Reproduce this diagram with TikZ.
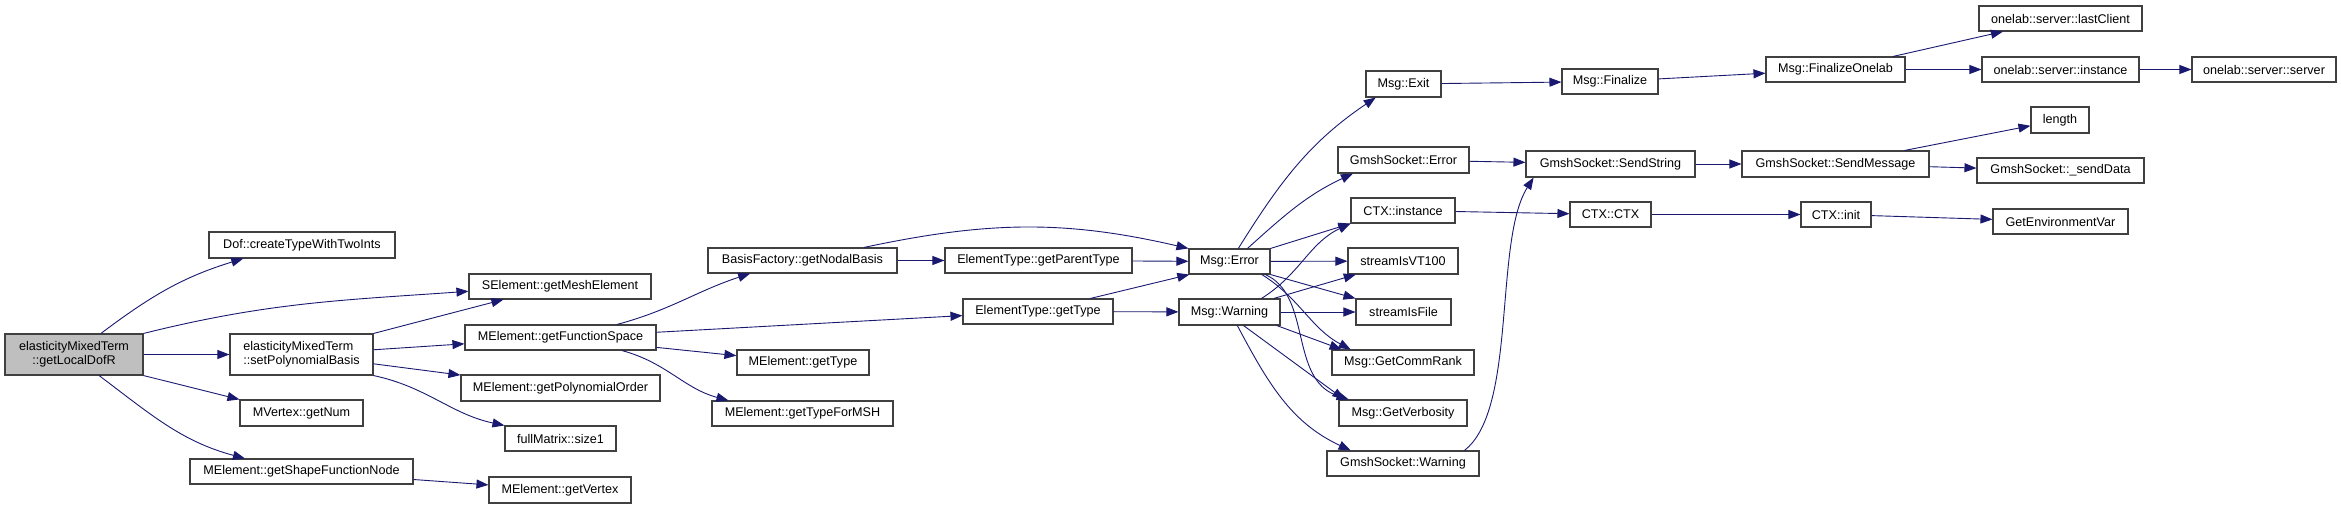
\documentclass[tikz,border=0pt]{standalone}
\usepackage{fontspec}
\setmainfont{Liberation Sans}
\usetikzlibrary{arrows.meta}
\definecolor{edgec}{HTML}{191970}
\definecolor{boxc}{HTML}{404040}
\definecolor{rootc}{HTML}{BFBFBF}
\newcommand\bx[7][]{\node[box,#1,minimum width=#5pt,minimum height=#6pt] (#2) at (#3,-#4) {#7};}
\begin{document}
\begin{tikzpicture}[x=1pt,y=1pt,
  box/.style={draw=boxc,line width=1.1pt,inner sep=0pt,fill=white,
    font=\fontsize{12.6}{14}\selectfont},
  e/.style={draw=edgec,line width=0.9pt,-{Triangle[length=12pt,width=9pt]}}]
\useasboundingbox (0,0) rectangle (2341,-508);
% nodes
\bx[fill=rootc,align=center]{root}{74}{354.5}{138}{41}{elasticityMixedTerm\\::getLocalDofR}
\bx{dof}{302}{245}{186}{26}{Dof::createTypeWithTwoInts}
\bx{selem}{560}{286.5}{182}{25}{SElement::getMeshElement}
\bx[align=left]{setpb}{301.5}{354.5}{143}{41}{elasticityMixedTerm\\::setPolynomialBasis}
\bx{getnum}{301.5}{413}{123}{26}{MVertex::getNum}
\bx{sfn}{301.5}{471.5}{223}{25}{MElement::getShapeFunctionNode}
\bx{fspace}{560.5}{337.5}{191}{25}{MElement::getFunctionSpace}
\bx{polyord}{560.5}{388}{199}{26}{MElement::getPolynomialOrder}
\bx{size1}{560.5}{438.5}{111}{25}{fullMatrix::size1}
\bx{vertex}{560}{490}{142}{26}{MElement::getVertex}
\bx{nodal}{802.5}{260.5}{189}{25}{BasisFactory::getNodalBasis}
\bx{parent}{1038.5}{260.5}{187}{25}{ElementType::getParentType}
\bx{etype}{1038}{311.5}{150}{25}{ElementType::getType}
\bx{mtype}{803}{362.5}{132}{25}{MElement::getType}
\bx{msh}{802.5}{413.5}{181}{25}{MElement::getTypeForMSH}
\bx{err}{1229.5}{261.5}{81}{25}{Msg::Error}
\bx{warn}{1229.5}{312}{101}{26}{Msg::Warning}
\bx{exit}{1403.5}{84}{75}{26}{Msg::Exit}
\bx{gserr}{1403.5}{160}{131}{26}{GmshSocket::Error}
\bx{ctxinst}{1403}{210.5}{104}{25}{CTX::instance}
\bx{vt100}{1403}{261}{110}{26}{streamIsVT100}
\bx{isfile}{1403.5}{312}{95}{26}{streamIsFile}
\bx{commrank}{1403}{362.5}{142}{25}{Msg::GetCommRank}
\bx{verb}{1403}{413}{128}{26}{Msg::GetVerbosity}
\bx{gswarn}{1403}{463.5}{152}{25}{GmshSocket::Warning}
\bx{finalize}{1610}{81.5}{96}{25}{Msg::Finalize}
\bx{sendstr}{1610.5}{164}{169}{26}{GmshSocket::SendString}
\bx{ctxctx}{1610.5}{214.5}{81}{25}{CTX::CTX}
\bx{finon}{1835.5}{69.5}{139}{25}{Msg::FinalizeOnelab}
\bx{sendmsg}{1835.5}{164}{187}{26}{GmshSocket::SendMessage}
\bx{ctxinit}{1836}{214.5}{70}{25}{CTX::init}
\bx{lastcl}{2060.5}{18.5}{163}{25}{onelab::server::lastClient}
\bx{oinst}{2060.5}{69.5}{157}{25}{onelab::server::instance}
\bx{length}{2060}{120}{58}{26}{length}
\bx{senddata}{2060.5}{170.5}{167}{25}{GmshSocket::\_sendData}
\bx{getenv}{2060.5}{221.5}{135}{25}{GetEnvironmentVar}
\bx{oserver}{2264}{69.5}{144}{25}{onelab::server::server}
% edges
\draw[e] (root.38) to[out=37,in=197] (dof.193);
\draw[e] (root.north east) to[out=14,in=184] (selem.183);
\draw[e] (root) -- (setpb);
\draw[e] (root.south east) -- (getnum.north west);
\draw[e] (root.-40) to[out=-37,in=165] (sfn.167.5);
\draw[e] (setpb.north east) -- (selem.193);
\draw[e] (setpb) -- (fspace);
\draw[e] (setpb) -- (polyord);
\draw[e] (setpb.south east) to[out=-12,in=168] (size1.north west);
\draw[e] (sfn) -- (vertex);
\draw[e] (fspace.13) to[out=15,in=198] (nodal.194);
\draw[e] (fspace) -- (etype);
\draw[e] (fspace) -- (mtype);
\draw[e] (fspace.-12) to[out=-15,in=165] (msh.170);
\draw[e] (nodal) -- (parent);
\draw[e] (nodal.12) to[out=12,in=167] (err.north west);
\draw[e] (parent) -- (err);
\draw[e] (etype.14) -- (err.198);
\draw[e] (etype) -- (warn);
\draw[e] (err.56) to[out=58,in=214] (exit.206);
\draw[e] (err.36) to[out=42,in=205] (gserr.195);
\draw[e] (err.north east) -- (ctxinst.south west);
\draw[e] (err) -- (vt100);
\draw[e] (err.south east) -- (isfile.north west);
\draw[e] (err.-22) to[out=-32,in=152] (commrank.166);
\draw[e] (err.-20) .. controls +(47,-21) and +(-60,20) .. (verb.166);
\draw[e] (warn.23) to[out=32,in=205] (ctxinst.south west);
\draw[e] (warn.17) -- (vt100.196);
\draw[e] (warn) -- (isfile);
\draw[e] (warn.-16) -- (commrank.168);
\draw[e] (warn.-44) -- (verb.167);
\draw[e] (warn.-60) to[out=-62,in=155] (gswarn.166);
\draw[e] (exit) -- (finalize);
\draw[e] (finalize) -- (finon);
\draw[e] (finon) -- (lastcl);
\draw[e] (finon) -- (oinst);
\draw[e] (oinst) -- (oserver);
\draw[e] (gserr) -- (sendstr);
\draw[e] (gswarn.12) .. controls +(53,41) and +(-40,-63) .. (sendstr.190);
\draw[e] (sendstr) -- (sendmsg);
\draw[e] (sendmsg) -- (length);
\draw[e] (sendmsg) -- (senddata);
\draw[e] (ctxinst) -- (ctxctx);
\draw[e] (ctxctx) -- (ctxinit);
\draw[e] (ctxinit) -- (getenv);
\end{tikzpicture}
\end{document}
